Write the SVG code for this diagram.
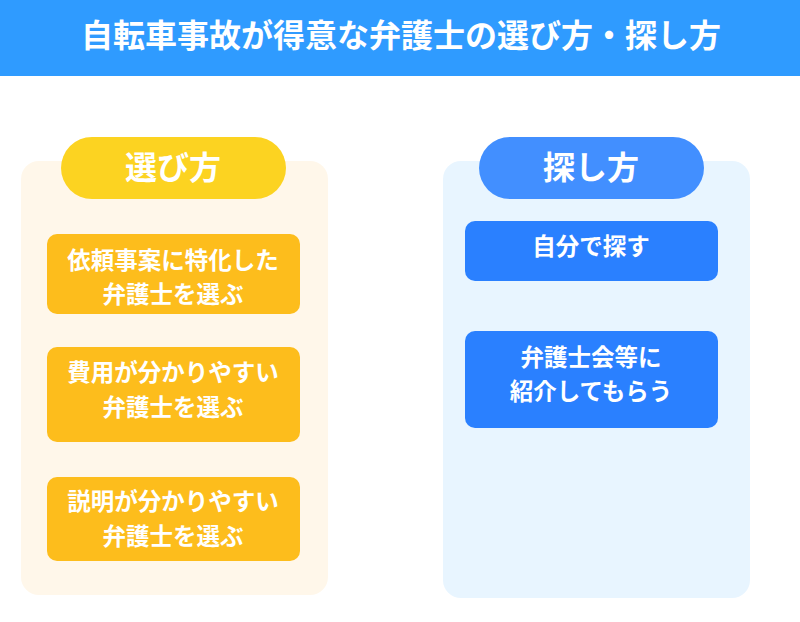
<svg xmlns="http://www.w3.org/2000/svg" width="800" height="622" viewBox="0 0 800 622">
<style>
text{font-family:"Noto Sans CJK JP","Noto Sans",sans-serif;font-weight:700;fill:#fff;text-anchor:middle}
.t{font-size:23.5px}.h{font-size:32px}.m{font-size:32px}
.o{fill:#fdbd1c}.b{fill:#2a80ff}
</style>
<rect width="800" height="622" fill="#fff"/>
<g id="title"><rect width="800" height="76" fill="#2f9bff"/><text class="m" x="401" y="47">自転車事故が得意な弁護士の選び方・探し方</text></g>
<g id="panel-left"><rect x="21" y="161" width="307" height="434" rx="18" fill="#fff7ea"/></g>
<g id="panel-right"><rect x="443" y="161" width="307" height="437" rx="18" fill="#e8f5ff"/></g>
<g id="head-left"><rect x="61" y="137" width="225" height="62" rx="31" fill="#fcd321"/><text class="h" x="173" y="179">選び方</text></g>
<g id="head-right"><rect x="479" y="137" width="225" height="62" rx="31" fill="#428fff"/><text class="h" x="591" y="179">探し方</text></g>
<g id="n1"><rect class="o" x="47" y="234" width="253" height="80" rx="10"/><text class="t" x="173" y="269">依頼事案に特化した</text><text class="t" x="173" y="303">弁護士を選ぶ</text></g>
<g id="n2"><rect class="o" x="47" y="347" width="253" height="95" rx="10"/><text class="t" x="173" y="381">費用が分かりやすい</text><text class="t" x="173" y="416">弁護士を選ぶ</text></g>
<g id="n3"><rect class="o" x="47" y="477" width="253" height="84" rx="10"/><text class="t" x="173" y="510">説明が分かりやすい</text><text class="t" x="173" y="545">弁護士を選ぶ</text></g>
<g id="n4"><rect class="b" x="465" y="221" width="253" height="60" rx="10"/><text class="t" x="591" y="255">自分で探す</text></g>
<g id="n5"><rect class="b" x="465" y="331" width="253" height="97" rx="10"/><text class="t" x="591" y="366">弁護士会等に</text><text class="t" x="591" y="400">紹介してもらう</text></g>
<g id="connectors"/>
</svg>
